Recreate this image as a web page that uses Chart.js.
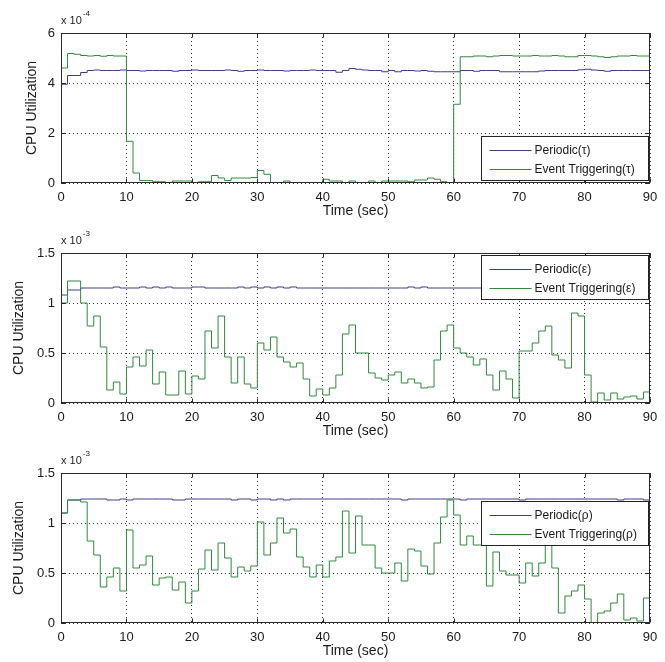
<!DOCTYPE html>
<html>
<head>
<meta charset="utf-8">
<title>CPU Utilization</title>
<script src="https://cdn.jsdelivr.net/npm/chart.js@4.4.1/dist/chart.umd.min.js"></script>
<style>
  html, body { margin: 0; padding: 0; background: #fff; }
  #wrap { position: relative; width: 665px; height: 662px; }
  #wrap canvas { position: absolute; left: 0; }
</style>
</head>
<body>
<div id="wrap">
  <canvas id="tauChart" width="665" height="220" style="top:0px"></canvas>
  <canvas id="epsChart" width="665" height="220" style="top:220px"></canvas>
  <canvas id="rhoChart" width="665" height="220" style="top:440px"></canvas>
</div>
<script>
// eixo do tempo (s) e ticks
const timeTicks = [0, 10, 20, 30, 40, 50, 60, 70, 80, 90];
const tauTicks = [0, 2, 4, 6];          // x 10^-4
const utilTicks = [0, 0.5, 1, 1.5];     // x 10^-3

// --- tau (x 10^-4), um valor por segundo ---
const periodicTau = [
  3.95, 4.30, 4.30, 4.42, 4.50, 4.52, 4.50, 4.50, 4.50, 4.52,
  4.50, 4.50, 4.48, 4.50, 4.50, 4.50, 4.50, 4.47, 4.50, 4.50,
  4.52, 4.50, 4.50, 4.50, 4.50, 4.52, 4.50, 4.47, 4.50, 4.50,
  4.52, 4.50, 4.50, 4.50, 4.48, 4.50, 4.50, 4.50, 4.52, 4.50,
  4.50, 4.50, 4.43, 4.50, 4.58, 4.55, 4.52, 4.50, 4.50, 4.45,
  4.50, 4.45, 4.50, 4.50, 4.48, 4.50, 4.47, 4.45, 4.45, 4.45,
  4.45, 4.50, 4.50, 4.47, 4.50, 4.50, 4.50, 4.45, 4.45, 4.45,
  4.45, 4.45, 4.45, 4.48, 4.50, 4.50, 4.50, 4.50, 4.50, 4.53,
  4.55, 4.52, 4.50, 4.47, 4.50, 4.50, 4.50, 4.50, 4.50, 4.50
];
const eventTau = [
  4.60, 5.18, 5.15, 5.10, 5.08, 5.10, 5.07, 5.10, 5.08, 5.08,
  1.67, 0.40, 0.10, 0.10, 0.05, 0.05, 0.00, 0.08, 0.08, 0.08,
  0.00, 0.05, 0.05, 0.30, 0.20, 0.10, 0.20, 0.20, 0.20, 0.22,
  0.50, 0.35, 0.00, 0.00, 0.08, 0.00, 0.00, 0.00, 0.00, 0.00,
  0.15, 0.08, 0.08, 0.00, 0.08, 0.00, 0.00, 0.08, 0.00, 0.08,
  0.08, 0.08, 0.08, 0.05, 0.12, 0.12, 0.20, 0.15, 0.05, 0.00,
  3.15, 5.05, 5.05, 5.08, 5.08, 5.05, 5.08, 5.10, 5.10, 5.08,
  5.08, 5.08, 5.10, 5.08, 5.08, 5.10, 5.08, 5.05, 5.05, 5.10,
  5.10, 5.08, 5.05, 5.02, 5.05, 5.08, 5.08, 5.10, 5.08, 5.08
];

// --- epsilon (x 10^-3) ---
const periodicEps = [
  1.08, 1.13, 1.13, 1.15, 1.15, 1.15, 1.15, 1.15, 1.16, 1.15,
  1.15, 1.15, 1.16, 1.15, 1.16, 1.15, 1.16, 1.15, 1.15, 1.15,
  1.16, 1.16, 1.15, 1.15, 1.15, 1.15, 1.15, 1.16, 1.15, 1.16,
  1.15, 1.16, 1.15, 1.16, 1.15, 1.16, 1.15, 1.15, 1.15, 1.15,
  1.15, 1.15, 1.15, 1.15, 1.15, 1.15, 1.15, 1.15, 1.15, 1.15,
  1.15, 1.15, 1.15, 1.16, 1.15, 1.16, 1.15, 1.15, 1.15, 1.15,
  1.15, 1.15, 1.15, 1.15, 1.15, 1.15, 1.15, 1.15, 1.15, 1.15,
  1.15, 1.15, 1.15, 1.15, 1.15, 1.15, 1.15, 1.15, 1.15, 1.15,
  1.15, 1.15, 1.15, 1.15, 1.15, 1.15, 1.15, 1.15, 1.15, 1.15
];
const eventEps = [
  1.00, 1.22, 1.22, 1.00, 0.77, 0.87, 0.56, 0.13, 0.21, 0.09,
  0.36, 0.46, 0.37, 0.53, 0.19, 0.31, 0.08, 0.08, 0.32, 0.09,
  0.27, 0.24, 0.72, 0.55, 0.87, 0.46, 0.20, 0.46, 0.19, 0.15,
  0.60, 0.53, 0.66, 0.46, 0.41, 0.36, 0.40, 0.24, 0.07, 0.14,
  0.08, 0.15, 0.28, 0.69, 0.78, 0.50, 0.50, 0.30, 0.25, 0.23,
  0.28, 0.31, 0.20, 0.24, 0.20, 0.15, 0.16, 0.43, 0.72, 0.78,
  0.55, 0.50, 0.46, 0.38, 0.44, 0.28, 0.13, 0.32, 0.24, 0.05,
  0.52, 0.52, 0.60, 0.72, 0.77, 0.48, 0.43, 0.35, 0.90, 0.87,
  0.28, 0.01, 0.10, 0.03, 0.10, 0.04, 0.06, 0.07, 0.04, 0.11
];

// --- rho (x 10^-3) ---
const periodicRho = [
  1.10, 1.23, 1.23, 1.24, 1.24, 1.24, 1.24, 1.23, 1.23, 1.24,
  1.23, 1.24, 1.24, 1.24, 1.24, 1.24, 1.24, 1.23, 1.23, 1.24,
  1.24, 1.24, 1.24, 1.24, 1.24, 1.24, 1.23, 1.24, 1.24, 1.23,
  1.24, 1.24, 1.23, 1.24, 1.23, 1.24, 1.24, 1.24, 1.24, 1.24,
  1.24, 1.24, 1.24, 1.24, 1.24, 1.24, 1.24, 1.24, 1.24, 1.24,
  1.24, 1.24, 1.23, 1.24, 1.24, 1.24, 1.24, 1.24, 1.24, 1.24,
  1.24, 1.23, 1.24, 1.24, 1.24, 1.24, 1.24, 1.24, 1.24, 1.24,
  1.23, 1.24, 1.24, 1.24, 1.24, 1.24, 1.24, 1.24, 1.24, 1.24,
  1.24, 1.24, 1.24, 1.24, 1.24, 1.23, 1.24, 1.24, 1.24, 1.23
];
const eventRho = [
  1.10, 1.23, 1.23, 1.21, 0.82, 0.68, 0.36, 0.46, 0.55, 0.32,
  0.93, 0.55, 0.58, 0.67, 0.38, 0.45, 0.46, 0.33, 0.41, 0.20,
  0.32, 0.54, 0.73, 0.53, 0.80, 0.65, 0.46, 0.56, 0.52, 0.57,
  1.01, 0.68, 0.80, 1.05, 0.90, 0.94, 0.66, 0.56, 0.46, 0.58,
  0.46, 0.62, 0.66, 1.12, 0.70, 1.07, 0.78, 0.78, 0.55, 0.50,
  0.50, 0.60, 0.42, 0.74, 0.72, 0.57, 0.49, 0.80, 1.06, 1.23,
  1.08, 0.78, 0.87, 0.78, 0.78, 0.37, 0.71, 0.52, 0.48, 0.48,
  0.40, 0.60, 0.47, 0.60, 0.78, 0.55, 0.10, 0.27, 0.32, 0.38,
  0.24, 0.00, 0.10, 0.12, 0.20, 0.29, 0.03, 0.05, 0.02, 0.25
];

const FONT = "'Liberation Sans', Arial, sans-serif";
const TEXT = "#1a1a1a";
const BLUE = "#3a3f88";
const GREEN = "#2f8a3a";
const TITLE_SIZE = 14;

Chart.defaults.font.family = FONT;
Chart.defaults.color = TEXT;

// desenha moldura, marcas internas, expoente e legenda no estilo do MATLAB
const matlabFrame = {
  id: "matlabFrame",
  afterDatasetsDraw(chart, args, opts) {
    const { ctx, chartArea: a, scales } = chart;
    const L = Math.round(a.left) + 0.5, R = Math.round(a.right) - 0.5;
    const T = Math.round(a.top) + 0.5, B = Math.round(a.bottom) - 0.5;
    ctx.save();
    ctx.strokeStyle = "#2a2a2a";
    ctx.lineWidth = 1;
    ctx.setLineDash([]);
    ctx.beginPath();
    scales.x.ticks.forEach((t) => {
      const px = Math.round(scales.x.getPixelForValue(t.value)) + 0.5;
      ctx.moveTo(px, B); ctx.lineTo(px, B - 4);
      ctx.moveTo(px, T); ctx.lineTo(px, T + 4);
    });
    scales.y.ticks.forEach((t) => {
      const py = Math.round(scales.y.getPixelForValue(t.value)) + 0.5;
      ctx.moveTo(L, py); ctx.lineTo(L + 4, py);
      ctx.moveTo(R, py); ctx.lineTo(R - 4, py);
    });
    ctx.stroke();
    ctx.strokeRect(L, T, R - L, B - T);

    // expoente "x 10^n"
    ctx.fillStyle = TEXT;
    ctx.textBaseline = "middle";
    ctx.textAlign = "left";
    ctx.font = "11px " + FONT;
    ctx.fillText("x 10", a.left, a.top - 12);
    const w = ctx.measureText("x 10").width;
    ctx.font = "8px " + FONT;
    ctx.fillText(opts.exponent, a.left + w + 1, a.top - 19);

    // legenda
    const bw = 167, bh = 44;
    const bx = Math.round(a.right - bw - 2) + 0.5;
    const by = Math.round(a.top + opts.legendTop) + 0.5;
    ctx.fillStyle = "#fff";
    ctx.fillRect(bx, by, bw, bh);
    ctx.strokeStyle = "#222";
    ctx.strokeRect(bx, by, bw, bh);
    ctx.font = "12px " + FONT;
    chart.data.datasets.forEach((ds, i) => {
      const y = Math.round(by + 13 + i * 19) + 0.5;
      ctx.strokeStyle = ds.borderColor;
      ctx.beginPath();
      ctx.moveTo(bx + 8, y);
      ctx.lineTo(bx + 50, y);
      ctx.stroke();
      ctx.fillStyle = TEXT;
      ctx.fillText(ds.label, bx + 53, y);
    });
    ctx.restore();
  },
};

function toSteps(values) {
  // cada valor vale de t até t+1 s; repete o último para fechar em 90 s
  const pts = values.map((v, i) => ({ x: i, y: v }));
  pts.push({ x: values.length, y: values[values.length - 1] });
  return pts;
}

function makeChart(id, cfg) {
  const ctx = document.getElementById(id).getContext("2d");
  const padLeft = cfg.titleX - (TITLE_SIZE * 1.2) / 2;
  new Chart(ctx, {
    type: "line",
    data: {
      datasets: [
        {
          label: cfg.labels[0],
          data: toSteps(cfg.periodic),
          borderColor: BLUE,
          borderWidth: 1,
          stepped: "before",
          pointRadius: 0,
          order: 2,
        },
        {
          label: cfg.labels[1],
          data: toSteps(cfg.event),
          borderColor: GREEN,
          borderWidth: 1,
          stepped: "before",
          pointRadius: 0,
          order: 1,
        },
      ],
    },
    options: {
      responsive: false,
      animation: false,
      devicePixelRatio: 1,
      layout: { padding: { left: padLeft, top: 33, right: 15, bottom: 0 } },
      plugins: {
        legend: { display: false },
        tooltip: { enabled: false },
        matlabFrame: { exponent: cfg.exponent, legendTop: cfg.legendTop },
      },
      scales: {
        x: {
          type: "linear",
          min: 0,
          max: 90,
          afterBuildTicks: (scale) => {
            scale.ticks = timeTicks.map((v) => ({ value: v }));
          },
          afterFit: (scale) => {
            scale.height = 37;
          },
          ticks: { padding: 7, font: { size: 13 }, callback: (v) => String(v) },
          grid: { color: "#333", lineWidth: 1, drawTicks: false },
          border: { display: false, dash: [1, 3] },
          title: { display: true, text: "Time (sec)", font: { size: TITLE_SIZE }, padding: 0 },
        },
        y: {
          min: 0,
          max: cfg.yTicks[cfg.yTicks.length - 1],
          afterBuildTicks: (scale) => {
            scale.ticks = cfg.yTicks.map((v) => ({ value: v }));
          },
          afterFit: (scale) => {
            scale.width = 61 - padLeft;
          },
          ticks: { padding: 6, font: { size: 13 }, callback: (v) => String(v) },
          grid: { color: "#333", lineWidth: 1, drawTicks: false },
          border: { display: false, dash: [1, 3] },
          title: { display: true, text: "CPU Utilization", font: { size: TITLE_SIZE }, padding: 0 },
        },
      },
    },
    plugins: [matlabFrame],
  });
}

makeChart("tauChart", {
  periodic: periodicTau,
  event: eventTau,
  labels: ["Periodic(\u03c4)", "Event Triggering(\u03c4)"],
  yTicks: tauTicks,
  exponent: "-4",
  legendTop: 103,
  titleX: 32,
});
makeChart("epsChart", {
  periodic: periodicEps,
  event: eventEps,
  labels: ["Periodic(\u03b5)", "Event Triggering(\u03b5)"],
  yTicks: utilTicks,
  exponent: "-3",
  legendTop: 2,
  titleX: 19,
});
makeChart("rhoChart", {
  periodic: periodicRho,
  event: eventRho,
  labels: ["Periodic(\u03c1)", "Event Triggering(\u03c1)"],
  yTicks: utilTicks,
  exponent: "-3",
  legendTop: 28,
  titleX: 19,
});
</script>
</body>
</html>
